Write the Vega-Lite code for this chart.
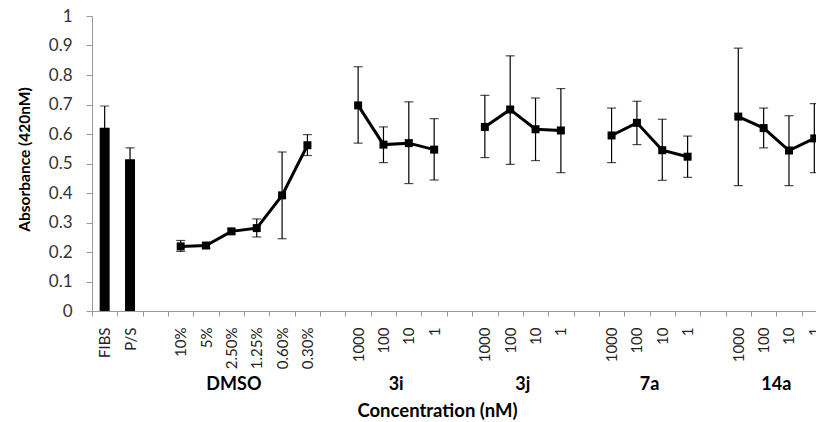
{
  "$schema": "https://vega.github.io/schema/vega-lite/v6.json",
  "width": 724,
  "height": 295,
  "autosize": {"type": "none"},
  "padding": {"left": 92, "top": 16, "right": 0, "bottom": 111},
  "background": "white",
  "config": {
    "view": {"stroke": null},
    "font": "Lato",
    "axisY": {
      "grid": false,
      "labelOverlap": false,
      "domainColor": "#999999",
      "tickColor": "#999999",
      "tickSize": 6,
      "labelPadding": 14,
      "labelFont": "Lato",
      "labelFontSize": 17,
      "labelColor": "#333333",
      "titleFont": "Lato",
      "titleFontSize": 15.5,
      "titleFontWeight": "bold",
      "titleColor": "#000000"
    },
    "axisX": {
      "labelAngle": -90,
      "labelAlign": "right",
      "labelBaseline": "middle",
      "labelOverlap": false,
      "labelBound": false,
      "tickBand": "extent",
      "tickSize": 5,
      "labelPadding": 11,
      "domainColor": "#999999",
      "tickColor": "#999999",
      "labelFont": "Lato",
      "labelFontSize": 15,
      "labelColor": "#222222",
      "titleFont": "Lato",
      "titleFontSize": 18.5,
      "titleFontWeight": "bold",
      "titleColor": "#000000"
    }
  },
  "data": {
    "values": [
      {"key": "|FIBS", "group": "Control", "type": "bar", "value": 0.621, "lo": 0.547, "hi": 0.695},
      {"key": "|P/S", "group": "Control", "type": "bar", "value": 0.514, "lo": 0.475, "hi": 0.553},
      {"key": "DMSO|10%", "group": "DMSO", "type": "point", "value": 0.219, "lo": 0.202, "hi": 0.239},
      {"key": "DMSO|5%", "group": "DMSO", "type": "point", "value": 0.222, "lo": 0.213, "hi": 0.231},
      {"key": "DMSO|2.50%", "group": "DMSO", "type": "point", "value": 0.270, "lo": 0.262, "hi": 0.278},
      {"key": "DMSO|1.25%", "group": "DMSO", "type": "point", "value": 0.281, "lo": 0.251, "hi": 0.312},
      {"key": "DMSO|0.60%", "group": "DMSO", "type": "point", "value": 0.392, "lo": 0.245, "hi": 0.539},
      {"key": "DMSO|0.30%", "group": "DMSO", "type": "point", "value": 0.562, "lo": 0.527, "hi": 0.598},
      {"key": "3i|1000", "group": "3i", "type": "point", "value": 0.697, "lo": 0.569, "hi": 0.828},
      {"key": "3i|100", "group": "3i", "type": "point", "value": 0.564, "lo": 0.503, "hi": 0.624},
      {"key": "3i|10", "group": "3i", "type": "point", "value": 0.569, "lo": 0.432, "hi": 0.709},
      {"key": "3i|1", "group": "3i", "type": "point", "value": 0.547, "lo": 0.444, "hi": 0.652},
      {"key": "3j|1000", "group": "3j", "type": "point", "value": 0.624, "lo": 0.520, "hi": 0.731},
      {"key": "3j|100", "group": "3j", "type": "point", "value": 0.683, "lo": 0.497, "hi": 0.865},
      {"key": "3j|10", "group": "3j", "type": "point", "value": 0.616, "lo": 0.510, "hi": 0.722},
      {"key": "3j|1", "group": "3j", "type": "point", "value": 0.612, "lo": 0.469, "hi": 0.754},
      {"key": "7a|1000", "group": "7a", "type": "point", "value": 0.595, "lo": 0.503, "hi": 0.688},
      {"key": "7a|100", "group": "7a", "type": "point", "value": 0.638, "lo": 0.564, "hi": 0.711},
      {"key": "7a|10", "group": "7a", "type": "point", "value": 0.545, "lo": 0.443, "hi": 0.650},
      {"key": "7a|1", "group": "7a", "type": "point", "value": 0.523, "lo": 0.453, "hi": 0.593},
      {"key": "14a|1000", "group": "14a", "type": "point", "value": 0.659, "lo": 0.425, "hi": 0.891},
      {"key": "14a|100", "group": "14a", "type": "point", "value": 0.620, "lo": 0.553, "hi": 0.688},
      {"key": "14a|10", "group": "14a", "type": "point", "value": 0.544, "lo": 0.425, "hi": 0.662},
      {"key": "14a|1", "group": "14a", "type": "point", "value": 0.585, "lo": 0.469, "hi": 0.703}
    ]
  },
  "encoding": {
    "x": {
      "field": "key", "type": "nominal", "sort": null,
      "scale": {
        "domain": ["|FIBS", "|P/S", "g1|", "DMSO|10%", "DMSO|5%", "DMSO|2.50%", "DMSO|1.25%", "DMSO|0.60%", "DMSO|0.30%", "g2|", "3i|1000", "3i|100", "3i|10", "3i|1", "g3|", "3j|1000", "3j|100", "3j|10", "3j|1", "g4|", "7a|1000", "7a|100", "7a|10", "7a|1", "g5|", "14a|1000", "14a|100", "14a|10", "14a|1"],
        "range": [0, 735],
        "paddingInner": 0,
        "paddingOuter": 0
      },
      "axis": {
        "title": "Concentration (nM)",
        "labelExpr": "split(datum.value, '|')[1]",
        "titleX": 345,
        "titleY": 99,
        "titleAlign": "center",
        "titleBaseline": "middle"
      }
    },
    "y": {
      "field": "value", "type": "quantitative",
      "scale": {"domain": [0, 1], "nice": false},
      "axis": {
        "title": "Absorbance (420nM)",
        "values": [0, 0.1, 0.2, 0.3, 0.4, 0.5, 0.6, 0.7, 0.8, 0.9, 1],
        "format": ".1~f",
        "titleX": -68,
        "titleY": 143,
        "titleAngle": -90,
        "titleAlign": "center",
        "titleBaseline": "middle"
      }
    }
  },
  "layer": [
    {
      "mark": {"type": "rule", "color": "#000000", "strokeWidth": 1.2},
      "encoding": {
        "y": {"field": "lo", "type": "quantitative", "title": "Absorbance (420nM)"},
        "y2": {"field": "hi"}
      }
    },
    {
      "transform": [{"filter": "datum.type == 'point'"}],
      "mark": {"type": "tick", "color": "#000000", "size": 9, "thickness": 1.2},
      "encoding": {
        "y": {"field": "lo", "type": "quantitative", "title": "Absorbance (420nM)"}
      }
    },
    {
      "mark": {"type": "tick", "color": "#000000", "size": 9, "thickness": 1.2},
      "encoding": {
        "y": {"field": "hi", "type": "quantitative", "title": "Absorbance (420nM)"}
      }
    },
    {
      "transform": [{"filter": "datum.type == 'bar'"}],
      "mark": {"type": "bar", "color": "#000000", "width": 10}
    },
    {
      "transform": [{"filter": "datum.type == 'point'"}],
      "mark": {"type": "line", "color": "#000000", "strokeWidth": 3},
      "encoding": {"detail": {"field": "group"}}
    },
    {
      "transform": [{"filter": "datum.type == 'point'"}],
      "mark": {"type": "point", "shape": "square", "filled": true, "color": "#000000", "opacity": 1, "size": 64}
    },
    {
      "transform": [{"filter": "datum.key == 'DMSO|2.50%'"}],
      "mark": {"type": "text", "font": "Lato", "fontSize": 18, "fontWeight": "bold", "color": "#000000", "align": "center", "baseline": "middle"},
      "encoding": {
        "x": {"field": "key", "type": "nominal", "sort": null, "bandPosition": 0.6},
        "y": {"datum": -0.25},
        "text": {"field": "group"}
      }
    },
    {
      "transform": [{"filter": "datum.type == 'point' && split(datum.key, '|')[1] == '100'"}],
      "mark": {"type": "text", "font": "Lato", "fontSize": 18, "fontWeight": "bold", "color": "#000000", "align": "center", "baseline": "middle"},
      "encoding": {
        "x": {"field": "key", "type": "nominal", "sort": null, "bandPosition": 1},
        "y": {"datum": -0.25},
        "text": {"field": "group"}
      }
    }
  ]
}
